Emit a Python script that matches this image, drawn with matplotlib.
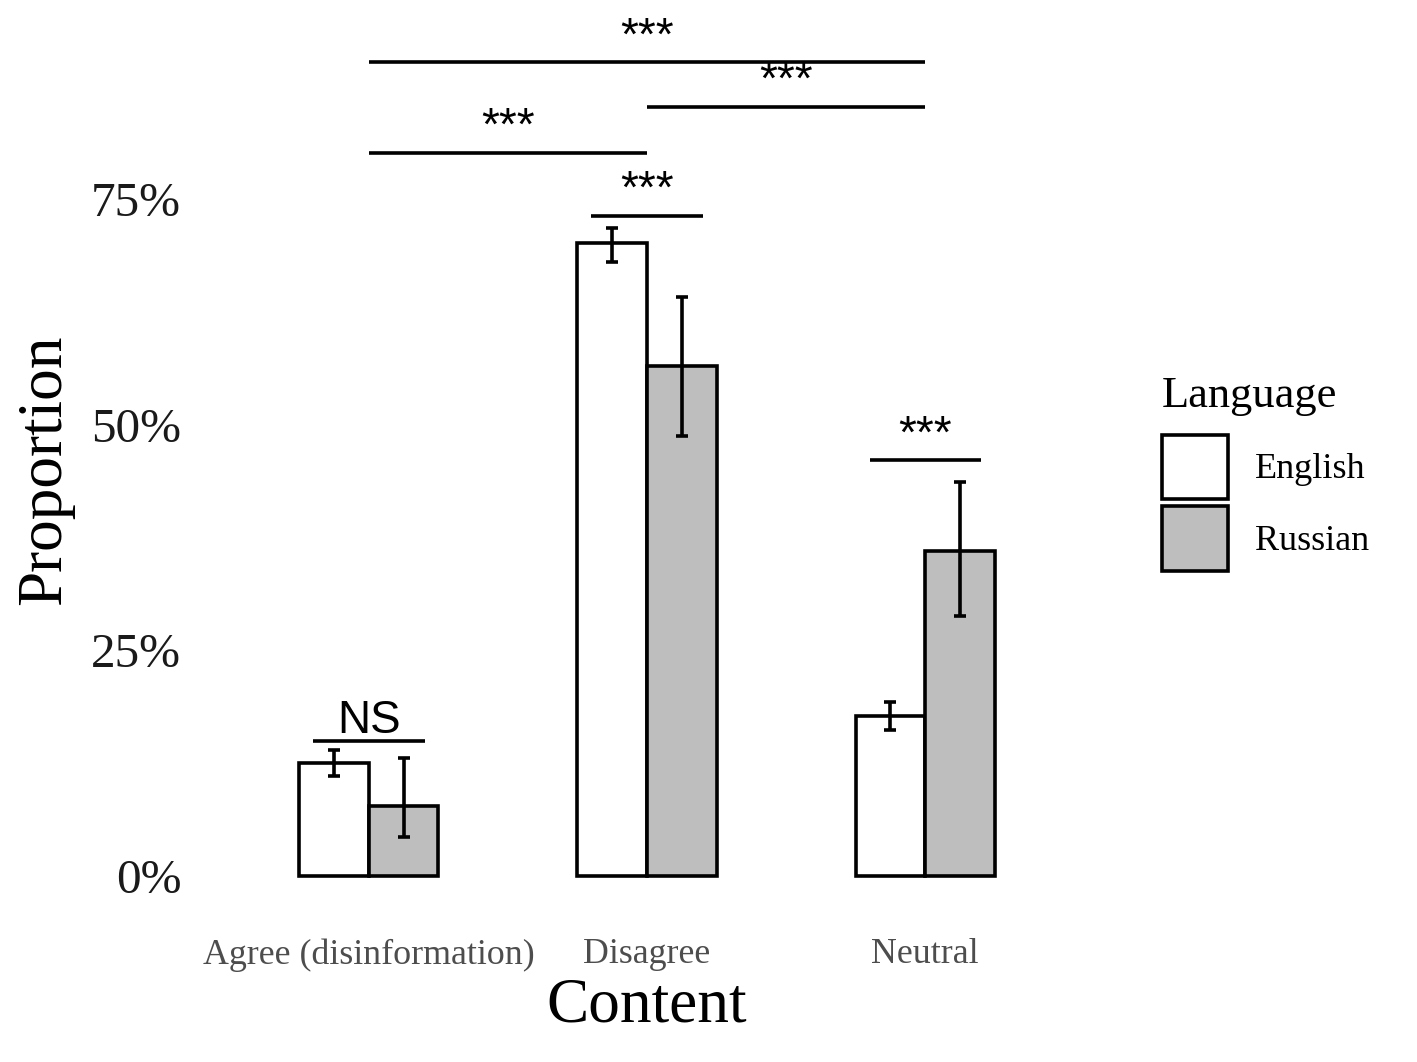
import matplotlib
matplotlib.use('Agg')
import matplotlib.pyplot as plt
from matplotlib.patches import Patch
import numpy as np

plt.rcParams['font.family'] = ['Liberation Serif', 'DejaVu Serif']

categories = ['Agree (disinformation)', 'Disagree', 'Neutral']
languages = ['English', 'Russian']
colors = ['white', '#BEBEBE']

english = [0.125, 0.702, 0.177]
english_lo = [0.111, 0.681, 0.162]
english_hi = [0.140, 0.718, 0.193]
russian = [0.078, 0.565, 0.360]
russian_lo = [0.043, 0.488, 0.288]
russian_hi = [0.131, 0.642, 0.437]

# within-category comparisons: (category index, line height, label)
within = [(0, 0.150, 'NS'), (1, 0.732, '***'), (2, 0.461, '***')]
# between-category comparisons: (from, to, line height, label)
between = [(0, 1, 0.802, '***'), (1, 2, 0.853, '***'), (0, 2, 0.902, '***')]

W, H = 1417, 1062
fig = plt.figure(figsize=(W / 100, H / 100), dpi=100)
ax = fig.add_axes([202 / W, (H - 912) / H, (1092 - 202) / W, (912 - 10) / H])

x = np.arange(len(categories))
bw = 0.25
lw = 2.6
means = [english, russian]
los = [english_lo, russian_lo]
his = [english_hi, russian_hi]
for i, lang in enumerate(languages):
    xs = x + (i - 0.5) * bw
    m = np.array(means[i])
    ax.bar(xs, m, width=bw, color=colors[i], edgecolor='black',
           linewidth=lw, zorder=2)
    err = [m - np.array(los[i]), np.array(his[i]) - m]
    ax.errorbar(xs, m, yerr=err, fmt='none', ecolor='black',
                elinewidth=lw, capsize=4, capthick=lw, zorder=3)

ann_font = ['Liberation Sans', 'DejaVu Sans']


def star_label(xc, yv, lab):
    off = 0.008 if lab == 'NS' else 0.014
    ax.text(xc, yv + off, lab, ha='center', va='baseline',
            fontsize=33, family=ann_font)


for c, yv, lab in within:
    ax.plot([c - 0.2, c + 0.2], [yv, yv], color='black', lw=lw,
            solid_capstyle='butt', clip_on=False)
    star_label(c, yv, lab)
for a, b, yv, lab in between:
    ax.plot([a, b], [yv, yv], color='black', lw=lw,
            solid_capstyle='butt', clip_on=False)
    star_label((a + b) / 2, yv, lab)

ax.set_xlim(-0.6, 2.6)
ax.set_ylim(-0.04, 0.96)
ax.set_xticks(x)
ax.set_xticklabels(categories, fontsize=25.8, color='#4D4D4D')
ax.set_yticks([0, 0.25, 0.5, 0.75])
ax.set_yticklabels(['0%', '25%', '50%', '75%'], fontsize=35.5, color='#1A1A1A')
ax.tick_params(length=0)
ax.tick_params(axis='y', pad=15)
ax.tick_params(axis='x', pad=19)
for s in ax.spines.values():
    s.set_visible(False)

fig.text(45 / W, 1 - 470 / H, 'Proportion', rotation=90, fontsize=45.5,
         ha='center', va='center')
fig.text(647 / W, 1 - 1007 / H, 'Content', fontsize=45.5,
         ha='center', va='center')

handles = [Patch(facecolor=colors[i], edgecolor='black', linewidth=lw)
           for i in range(2)]
leg = fig.legend(handles, languages, loc='upper left',
                 bbox_to_anchor=(1129 / W, 1 - 344 / H), frameon=False,
                 fontsize=26, title='Language', title_fontsize=32,
                 handlelength=1.85, handleheight=2.38, labelspacing=0.2,
                 handletextpad=0.75, alignment='left')
leg._legend_box.sep = 13

fig.savefig('out.png', dpi=100)
